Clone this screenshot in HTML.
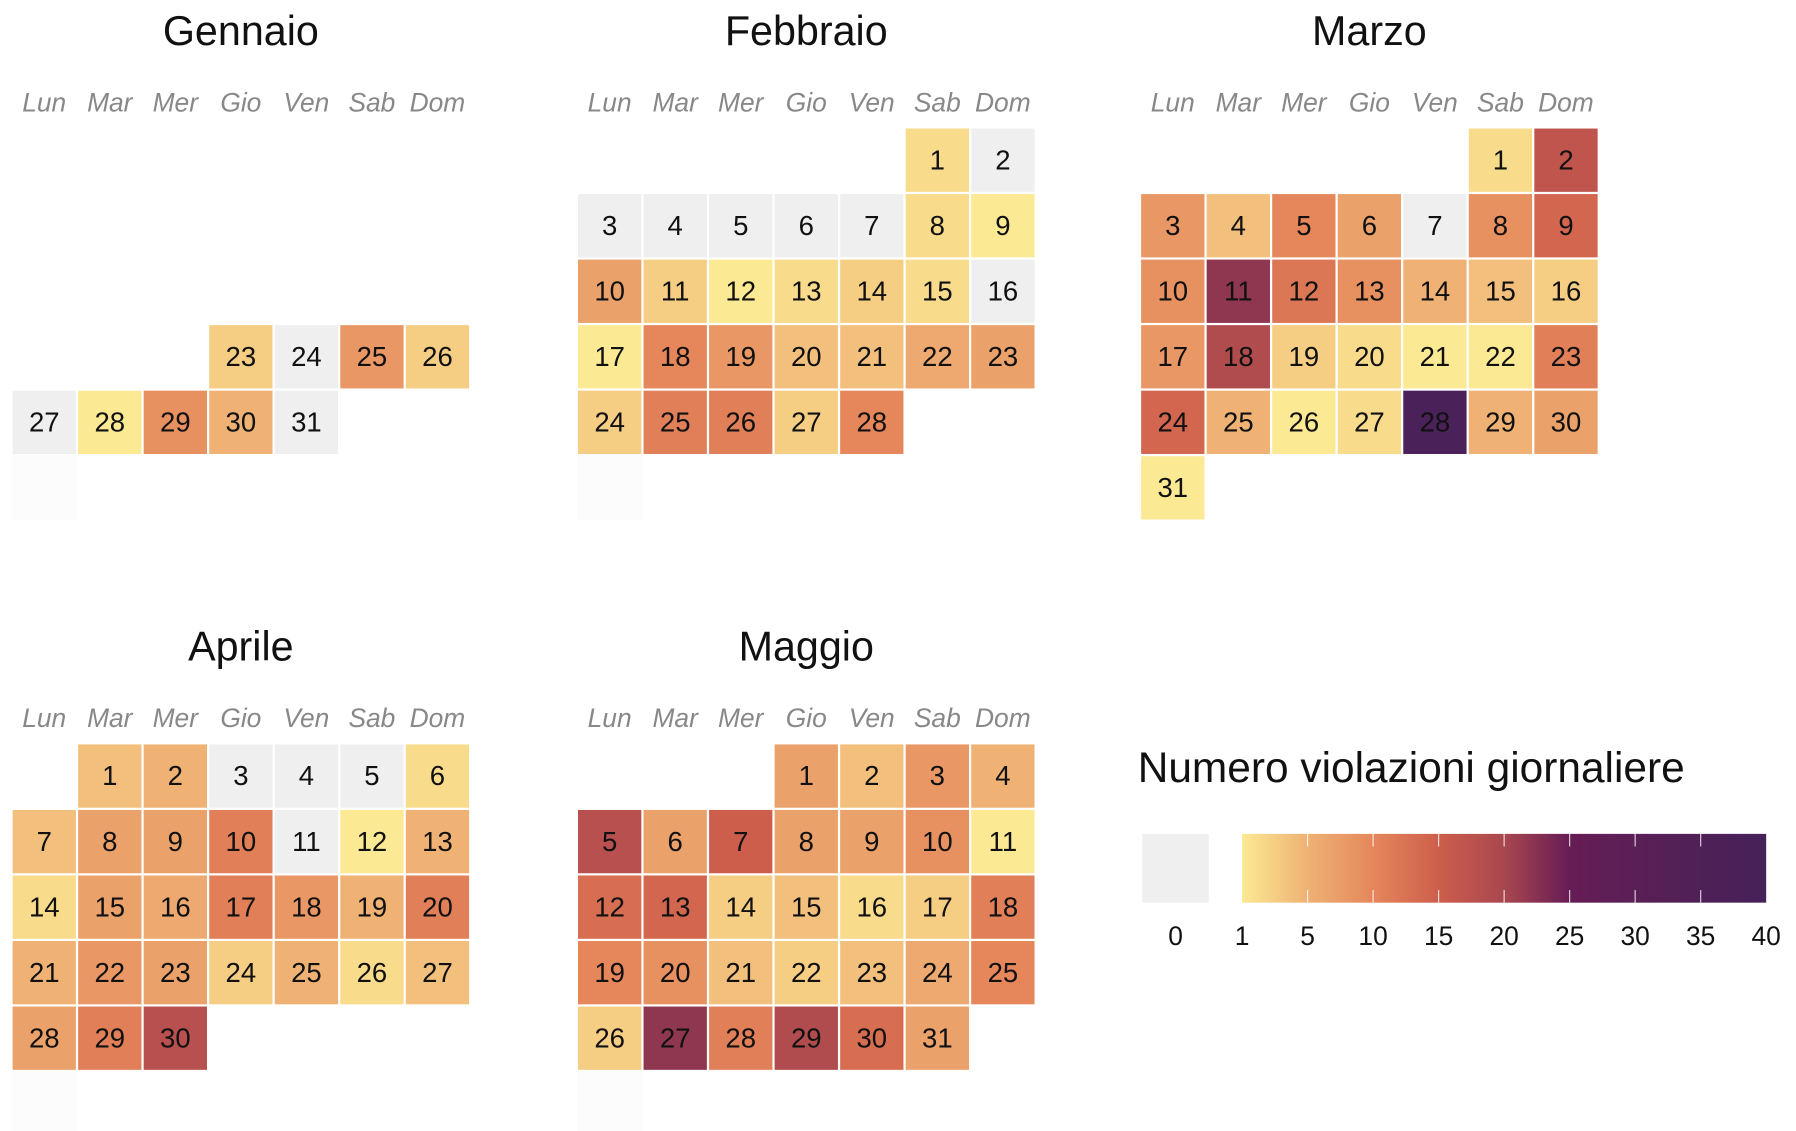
<!DOCTYPE html>
<html><head><meta charset="utf-8"><style>
html,body{margin:0;padding:0;background:#fff;}
svg{display:block;font-family:"Liberation Sans",sans-serif;}
</style></head><body>
<svg id="chart" width="1796" height="1131" viewBox="0 0 1566 986" xmlns="http://www.w3.org/2000/svg"></svg>
<script>
const monthNames = ["Gennaio","Febbraio","Marzo","Aprile","Maggio"];
const dayNames = ["Lun","Mar","Mer","Gio","Ven","Sab","Dom"];
const firstDays = [23,1,1,1,1];
const startCols = [3,5,5,1,3];
const startRows = [3,0,0,0,0];
const janValues = [3,0,8,3,0,1,9,5,0];
const febValues = [2,0,0,0,0,0,0,2,1,7,3,1,2,3,2,0,1,10,8,4,4,6,7,3,11,11,3,10];
const marValues = [2,17,8,4,10,7,0,9,14,9,22,12,9,5,4,3,8,19,3,2,1,1,11,14,5,1,2,38,5,7,1];
const aprValues = [4,5,0,0,0,2,4,7,7,11,0,1,5,2,7,6,11,8,5,11,5,8,7,3,5,2,4,7,11,18];
const mayValues = [7,4,8,5,18,7,15,7,7,9,1,13,14,3,4,2,3,11,10,9,4,3,4,6,10,3,22,11,19,13,7];
const monthValues = [janValues,febValues,marValues,aprValues,mayValues];
const legendTicks = [1,5,10,15,20,25,30,35,40];
const legendColors = ["#fbe993","#efb274","#e5875b","#cd5e4c","#a9474f","#671c55","#5a1f56","#4f2057","#46215a"];

const NS="http://www.w3.org/2000/svg";
const svg=document.getElementById('chart');
function el(t,a,p){const e=document.createElementNS(NS,t);for(const k in a)e.setAttribute(k,a[k]);(p||svg).appendChild(e);return e;}
function hex(c){return [1,3,5].map(i=>parseInt(c.substr(i,2),16));}
function color(v){
  if(v<=0) return "#efefef";
  let i=0; while(i<legendTicks.length-2 && v>legendTicks[i+1]) i++;
  const t=Math.max(0,Math.min(1,(v-legendTicks[i])/(legendTicks[i+1]-legendTicks[i])));
  const a=hex(legendColors[i]),b=hex(legendColors[i+1]);
  return "rgb("+a.map((x,k)=>Math.round(x+(b[k]-x)*t)).join(",")+")";
}
const P=57.14, CS=55.2;
const panelX=[10,503,994,10,503];
const panelY=[111,111,111,648,648];
monthNames.forEach((m,mi)=>{
  const g=el('g',{});
  
  
  const x0=panelX[mi],y0=panelY[mi];
  const t=el('text',{x:x0+200,y:y0-72,'text-anchor':'middle','font-size':36,fill:'#111'},g);
  t.textContent=m;
  
  
  dayNames.forEach((d,di)=>{
    const dt=el('text',{x:x0+P*di+P/2,y:y0-14,'text-anchor':'middle','font-size':23,'font-style':'italic',fill:'#888'},g);
    dt.textContent=d;
    
    
  });
  const vals=monthValues[mi];
  let lastRow=0;
  vals.forEach((v,k)=>{
    const pos=startCols[mi]+k;
    const col=pos%7,row=startRows[mi]+Math.floor(pos/7);
    lastRow=row;
    const cx=x0+col*P+1, cy=y0+row*P+1;
    const r=el('rect',{x:cx,y:cy,width:CS,height:CS,fill:color(v)},g);
    
    
    const tx=el('text',{x:cx+CS/2,y:cy+CS/2+8,'text-anchor':'middle','font-size':24,fill:'#111'},g);
    tx.textContent=firstDays[mi]+k;
    
    
  });
  if(lastRow<5){
    const f=el('rect',{x:x0,y:y0+(lastRow+1)*P,width:P,height:P,fill:'#fcfcfc'},g);
    
    
  }
});
// legend
const lg=el('g',{});


const lt=el('text',{x:992,y:682,'font-size':37,fill:'#111'},lg);
lt.textContent="Numero violazioni giornaliere";


const zb=el('rect',{x:996,y:727,width:58,height:60,fill:'#efefef'},lg);


const zl=el('text',{x:1025,y:824,'text-anchor':'middle','font-size':23,fill:'#111'},lg);
zl.textContent="0";


const defs=el('defs',{});
const grad=el('linearGradient',{id:'cb',x1:0,x2:1,y1:0,y2:0},defs);
const CB0=1083,CBW=457,step=CBW/(legendTicks.length-1);
legendColors.forEach((c,i)=>el('stop',{offset:(i/(legendColors.length-1)),'stop-color':c},grad));
const cb=el('rect',{x:CB0,y:727,width:CBW,height:60,fill:'url(#cb)'},lg);


legendTicks.forEach((v,i)=>{
  const x=CB0+i*step;
  if(i>0&&i<legendTicks.length-1){
    el('line',{x1:x,x2:x,y1:727,y2:738,stroke:'#fff','stroke-width':1,'stroke-opacity':0.8},lg);
    el('line',{x1:x,x2:x,y1:776,y2:787,stroke:'#fff','stroke-width':1,'stroke-opacity':0.8},lg);
  }
  const tl=el('text',{x:x,y:824,'text-anchor':'middle','font-size':23,fill:'#111'},lg);
  tl.textContent=v;
  
  
});
</script>
</body></html>
